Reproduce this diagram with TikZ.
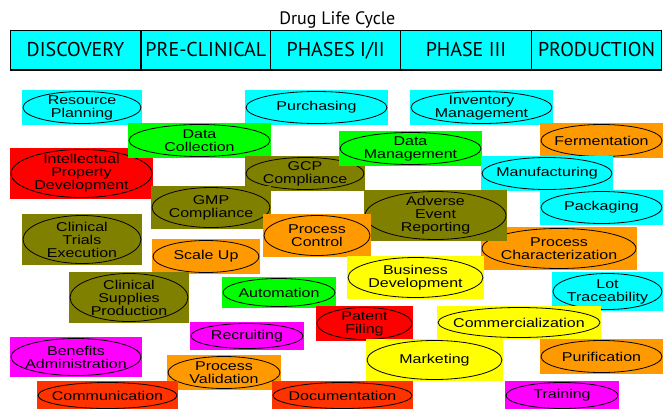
\documentclass[tikz,border=0pt]{standalone}
\usepackage{fontspec}
\setmainfont{Liberation Sans}
\newfontfamily\bubfont[FakeStretch=1.25]{Liberation Sans}
\newfontfamily\headfont{PT Sans}
\usetikzlibrary{shapes.geometric}
\definecolor{bcyan}{HTML}{00FFFF}
\definecolor{bgreen}{HTML}{00FF00}
\definecolor{bred}{HTML}{FF0000}
\definecolor{bolive}{HTML}{808000}
\definecolor{borange}{HTML}{FF9900}
\definecolor{byellow}{HTML}{FFFF00}
\definecolor{bmagenta}{HTML}{FF00FF}
\definecolor{bredor}{HTML}{FF3300}
\tikzset{
  bubbox/.style={rectangle, draw=none, inner sep=0pt, outer sep=0pt},
  bubline/.style={draw=black, line width=0.8pt},
  bubtext/.style={font=\bubfont\fontsize{12.8}{13}\selectfont, align=center, inner sep=0pt, text=black},
  cell/.style={rectangle, draw=black, line width=1.3pt, fill=bcyan, inner sep=0pt, outer sep=0pt, minimum height=39.3pt},
  headtext/.style={font=\headfont\fontsize{20}{22}\selectfont, anchor=base, inner sep=0pt}
}
\newcommand\bub[7]{%
  \node[bubbox, fill=#6, minimum width={(#4-#2)*1pt}, minimum height={(#5-#3)*1pt}] (#1) at ({(#2+#4)/2},{(#3+#5)/2}) {};
  \draw[bubline, fill=#6] (#1.center) ellipse [x radius={((#4-#2)/2-1)*1pt}, y radius={((#5-#3)/2-1.5)*1pt}];
  \node[bubtext] (#1t) at (#1.center) {#7};
}
\begin{document}
\begin{tikzpicture}[x=1pt,y=-1pt]
\useasboundingbox (0,0) rectangle (665,408);
\clip (0,0) rectangle (665,408);
% title
\node[font=\headfont\fontsize{18}{20}\selectfont, anchor=base, inner sep=0pt] (title) at (337.3,24) {Drug Life Cycle};
% header cells
\node[cell, minimum width=130.3pt] (c1) at (75.85,50.35) {};
\node[cell, minimum width=129.7pt] (c2) at (205.85,50.35) {};
\node[cell, minimum width=130pt] (c3) at (335.7,50.35) {};
\node[cell, minimum width=130.6pt] (c4) at (466,50.35) {};
\node[cell, minimum width=130.4pt] (c5) at (596.5,50.35) {};
\node[headtext] (h1) at (75.5,56) {DISCOVERY};
\node[headtext] (h2) at (205.85,56) {PRE-CLINICAL};
\node[headtext] (h3) at (335.7,56) {PHASES I/II};
\node[headtext] (h4) at (466,56) {PHASE III};
\node[headtext] (h5) at (596.5,56) {PRODUCTION};
% bubbles
\bub{rp}{22}{90}{142}{125}{bcyan}{Resource\\Planning}
\bub{pu}{245}{90}{388}{125}{bcyan}{Purchasing}
\bub{im}{410}{90}{553}{125}{bcyan}{Inventory\\Management}
\bub{fe}{540}{123}{663}{158}{borange}{Fermentation}
\bub{ip}{10}{148}{153}{199}{bred}{Intellectual\\Property\\Development}
\bub{dc}{128}{123}{271}{158}{bgreen}{Data\\Collection}
\bub{gcp}{245}{156}{365}{191}{bolive}{GCP\\Compliance}
\bub{dm}{339}{131}{482}{166}{bgreen}{Data\\Management}
\bub{mf}{481}{156}{613}{191}{bcyan}{Manufacturing}
\bub{gmp}{151}{186}{271}{229}{bolive}{GMP\\Compliance}
\bub{pk}{540}{190}{663}{225}{bcyan}{Packaging}
\bub{cte}{22}{214}{142}{265}{bolive}{Clinical\\Trials\\Execution}
\bub{pch}{481}{227}{637}{270}{borange}{Process\\Characterization}
\bub{aer}{364}{190}{507}{241}{bolive}{Adverse\\Event\\Reporting}
\bub{pc}{263}{214}{371}{257}{borange}{Process\\Control}
\bub{su}{152}{239}{260}{274}{borange}{Scale Up}
\bub{bd}{347}{256}{484}{299}{byellow}{Business\\Development}
\bub{csp}{69}{272}{189}{323}{bolive}{Clinical\\Supplies\\Production}
\bub{au}{222}{277}{336}{308}{bgreen}{Automation}
\bub{lt}{552}{272}{663}{311}{bcyan}{Lot\\Traceability}
\bub{pf}{316}{306}{413}{341}{bred}{Patent\\Filing}
\bub{co}{437}{306}{601}{339}{byellow}{Commercialization}
\bub{re}{190}{322}{304}{350}{bmagenta}{Recruiting}
\bub{ba}{10}{337}{142}{377}{bmagenta}{Benefits\\Administration}
\bub{ma}{366}{339}{503}{381}{byellow}{Marketing}
\bub{pur}{540}{339}{663}{374}{borange}{Purification}
\bub{pv}{167}{355}{281}{390}{borange}{Process\\Validation}
\bub{com}{37}{381}{178}{410}{bredor}{Communication}
\bub{doc}{272}{381}{413}{410}{bredor}{Documentation}
\bub{tr}{505}{381}{619}{410}{bmagenta}{Training}
\end{tikzpicture}
\end{document}
